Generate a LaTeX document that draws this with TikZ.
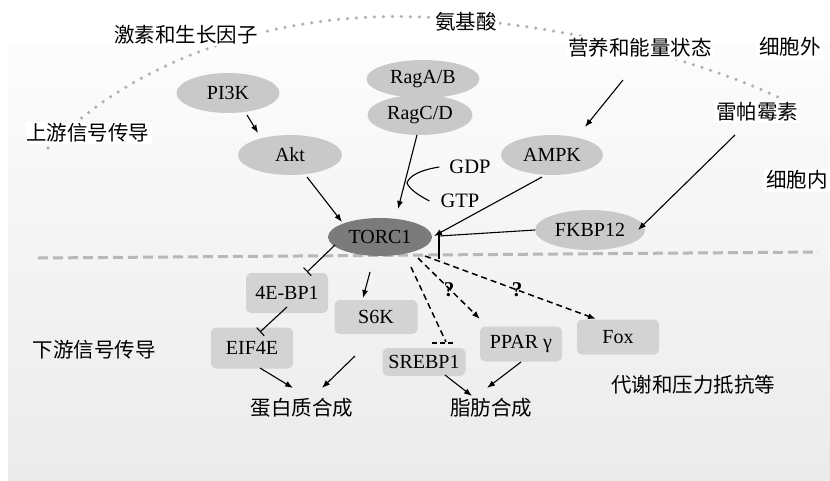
\documentclass[tikz,border=0pt]{standalone}
\usepackage{fontspec}
\setmainfont{Liberation Serif}
\newfontfamily\cjk{Noto Sans CJK SC}
\usetikzlibrary{arrows.meta,calc,shapes.geometric}
\definecolor{ellc}{HTML}{C9C9C9}
\definecolor{boxc}{HTML}{D3D3D3}
\definecolor{torcc}{HTML}{7B7B7B}
\definecolor{dotc}{HTML}{B0B0B0}
\definecolor{divc}{HTML}{B8B8B8}
\definecolor{panelc}{HTML}{EBEBEB}
\begin{document}
\begin{tikzpicture}[x=1pt,y=-1pt,
  ell/.style={ellipse,fill=ellc,inner sep=0pt,font=\fontsize{20}{24}\selectfont},
  rbox/.style={rectangle,rounded corners=5pt,fill=boxc,inner sep=0pt,font=\fontsize{20}{24}\selectfont},
  lbl/.style={font=\cjk\fontsize{20.5}{24}\selectfont,inner sep=1pt},
  wlbl/.style={lbl,fill=white,inner sep=2pt},
  txt/.style={font=\fontsize{20.5}{24}\selectfont,inner sep=0pt},
  qm/.style={font=\bfseries\fontsize{21}{24}\selectfont,inner sep=0pt},
  arr/.style={-{Latex[length=8pt,width=6pt]},line width=1.1pt},
  inh/.style={-{Bar[width=11pt]},line width=1.1pt},
  dsh/.style={dash pattern=on 6pt off 4pt,line width=1.5pt},
  dsharr/.style={dsh,-{Latex[length=8pt,width=6pt]}},
]
\useasboundingbox (0,0) rectangle (830,480);
\fill[white] (0,0) rectangle (830,480);
\shade[top color=gray!2,bottom color=panelc] (8,43) rectangle (830,480);

% dotted membrane arc
\draw[dotc,line width=3.5pt,line cap=round,dash pattern=on 0pt off 9pt]
  (48,148) .. controls (150,45) and (300,12) .. (420,17)
  .. controls (560,22) and (700,60) .. (780,98);

% divider
\draw[divc,line width=3pt,dash pattern=on 10pt off 5pt] (38,258) -- (818,252);

% labels
\node[wlbl] (hormone) at (186,35) {激素和生长因子};
\node[wlbl] (amino) at (466,22) {氨基酸};
\node[wlbl] (nutri) at (640,48) {营养和能量状态};
\node[wlbl] (extra) at (790,47) {细胞外};
\node[wlbl] (rapa) at (757,112) {雷帕霉素};
\node[wlbl] (intra) at (797,180) {细胞内};
\node[wlbl] (up) at (88,133) {上游信号传导};
\node[lbl] (down) at (94,350) {下游信号传导};
\node[lbl] (protein) at (302,408) {蛋白质合成};
\node[lbl] (lipid) at (491,408) {脂肪合成};
\node[lbl] (metab) at (693,385) {代谢和压力抵抗等};

% ellipses
\node[ell,minimum width=103pt,minimum height=40pt] (pi3k) at (228,93) {PI3K};
\node[ell,minimum width=104pt,minimum height=40pt] (akt) at (290,155) {Akt};
\node[ell,minimum width=113pt,minimum height=38pt] (raga) at (423,79) {RagA/B};
\node[ell,minimum width=105pt,minimum height=40pt] (ragc) at (420,115) {RagC/D};
\node[ell,minimum width=102pt,minimum height=40pt] (ampk) at (552,155) {AMPK};
\node[ell,minimum width=110pt,minimum height=40pt] (fkbp) at (590,230) {FKBP12};
\node[ell,fill=torcc,minimum width=104pt,minimum height=38pt] (torc) at (380,237) {TORC1};

% boxes
\node[rbox,minimum width=82pt,minimum height=40pt] (bp1) at (287,293) {4E-BP1};
\node[rbox,minimum width=82pt,minimum height=41pt] (eif) at (252,348) {EIF4E};
\node[rbox,minimum width=83pt,minimum height=34pt] (s6k) at (376,317) {S6K};
\node[rbox,minimum width=83pt,minimum height=28pt] (srebp) at (424,362) {SREBP1};
\node[rbox,minimum width=82pt,minimum height=35pt] (ppar) at (521,344) {PPAR γ};
\node[rbox,minimum width=82pt,minimum height=35pt] (fox) at (618,337) {Fox};

% GDP / GTP
\node[txt] (gdp) at (470,167) {GDP};
\node[txt] (gtp) at (460,201) {GTP};
\node[qm] (q1) at (449,290) {?};
\node[qm] (q2) at (517,290) {?};

% upstream connectors
\draw[arr] ($(pi3k)+(19,22)$) -- ($(akt)+(-32,-22)$);
\draw[arr] ($(akt)+(17,22)$) -- ($(torc)+(-38,-15)$);
\draw[arr] ($(ragc)+(-3,20)$) -- ($(torc)+(18,-28)$);
\draw[line width=1.1pt] ($(gdp.west)+(-10,0)$) .. controls (420,170) and (409,176) .. (407,183)
  .. controls (410,190) and (420,196) .. ($(gtp.west)+(-11,0)$);
\draw[arr] ($(nutri)+(-17,32)$) -- ($(ampk)+(33,-28)$);
\draw[arr] ($(ampk)+(-10,22)$) -- ($(torc)+(54,-1)$);
\draw[arr] ($(rapa)+(-22,23)$) -- ($(fkbp)+(48,0)$);
\draw[line width=1.1pt] ($(fkbp)+(-55,0)$) -- ($(torc)+(59,-1)$);
\draw[line width=1.1pt] ($(torc)+(59,-3)$) -- ($(torc)+(59,22)$);

% downstream connectors
\draw[inh] ($(torc)+(-45,8)$) -- ($(bp1)+(20,-21)$);
\draw[inh] ($(bp1)+(0,14)$) -- ($(eif)+(8,-16)$);
\draw[arr] ($(torc)+(-10,35)$) -- ($(s6k)+(-13,-19)$);
\draw[arr] ($(eif)+(8,20)$) -- ($(protein)+(-9,-20)$);
\draw[arr] ($(s6k)+(-21,39)$) -- ($(protein)+(20,-20)$);
\draw[arr] ($(srebp)+(21,13)$) -- ($(lipid)+(-19,-12)$);
\draw[arr] ($(ppar)+(0,18)$) -- ($(lipid)+(-4,-20)$);

% dashed from TORC1
\draw[dsh] ($(torc)+(31,30)$) -- ($(srebp)+(22,-20)$);
\draw[line width=1.3pt,dash pattern=on 5pt off 3pt] ($(srebp)+(8,-19)$) -- ($(srebp)+(31,-19)$);
\draw[dsharr] ($(torc)+(38,21)$) -- ($(ppar)+(-41,-25)$);
\draw[dsharr] ($(torc)+(45,19)$) -- ($(fox)+(-22,-18)$);
\end{tikzpicture}
\end{document}
